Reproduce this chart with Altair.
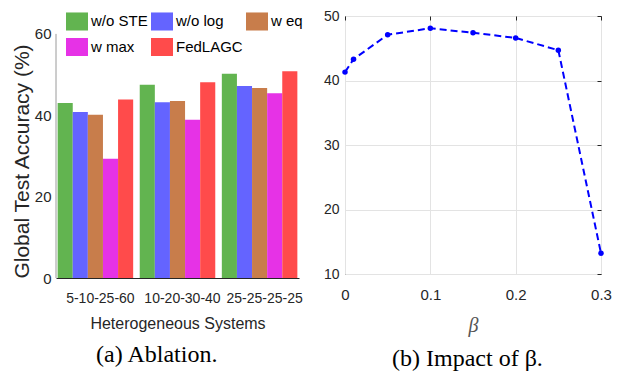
import altair as alt
import pandas as pd

# ---- data ----
systems = ["5-10-25-60", "10-20-30-40", "25-25-25-25"]
methods = ["w/o STE", "w/o log", "w eq", "w max", "FedLAGC"]
colors = ["#62b450", "#6464ff", "#c87d4b", "#e632e6", "#ff4b4b"]
acc_wo_ste = [43.0, 47.5, 50.2]
acc_wo_log = [40.8, 43.2, 47.2]
acc_w_eq = [40.1, 43.5, 46.7]
acc_w_max = [29.3, 38.9, 45.4]
acc_fedlagc = [43.9, 48.1, 50.8]

beta = [0, 0.01, 0.05, 0.1, 0.15, 0.2, 0.25, 0.3]
beta_acc = [41.3, 43.3, 47.1, 48.1, 47.4, 46.6, 44.7, 13.2]

series = [acc_wo_ste, acc_wo_log, acc_w_eq, acc_w_max, acc_fedlagc]
rows = []
for m, vals in zip(methods, series):
    for s, v in zip(systems, vals):
        rows.append({"system": s, "method": m, "acc": v})
df_bar = pd.DataFrame(rows)
df_beta = pd.DataFrame({"beta": beta, "acc": beta_acc})

SANS = "Liberation Sans"
DARK = "#262626"

# ---- left: ablation ----
yscale_l = alt.Scale(domain=[0, 64.4], nice=False)

bars = alt.Chart(df_bar).mark_bar(opacity=1).encode(
    x=alt.X("system:N", sort=systems,
            scale=alt.Scale(paddingInner=0.08, paddingOuter=0.02),
            axis=alt.Axis(title="Heterogeneous Systems", labelAngle=0, ticks=False, tickSize=0,
                          domainColor=DARK, labelOffset=5, labelPadding=13, labelFontSize=14,
                          titleFontSize=16, titlePadding=10)),
    xOffset=alt.XOffset("method:N", sort=methods, scale=alt.Scale(paddingInner=0, paddingOuter=0)),
    y=alt.Y("acc:Q", scale=yscale_l,
            axis=alt.Axis(values=[0, 20, 40, 60], title="Global Test Accuracy (%)", grid=False,
                          ticks=False, tickSize=0, domain=False, labelPadding=5, labelFlush=False,
                          titleFontSize=21, titlePadding=2, titleY=145)),
    color=alt.Color("method:N", sort=methods,
                    scale=alt.Scale(domain=methods, range=colors),
                    legend=alt.Legend(orient="none", legendX=10, legendY=-6, columns=3,
                                      direction="horizontal", title=None,
                                      symbolType="M-1,-0.82H1V0.82H-1Z", symbolSize=484,
                                      symbolStrokeWidth=0, symbolOpacity=1,
                                      labelFontSize=15, labelColor="#000000",
                                      labelOffset=3, columnPadding=3, rowPadding=5, padding=0)),
)
y_axis_line = alt.Chart(pd.DataFrame({"v": [0]})).mark_rule(color="#9a9a9a", strokeWidth=1).encode(
    x=alt.value(0), y=alt.datum(0), y2=alt.datum(60)
)
left = alt.layer(bars, y_axis_line).properties(
    width=243, height=262,
    title=alt.TitleParams("(a) Ablation.", orient="bottom", font="Liberation Serif", fontSize=24,
                          fontWeight="normal", frame="bounds", anchor="middle", offset=12,
                          color="#000000"),
)

# ---- right: impact of beta ----
xs = alt.Scale(domain=[0, 0.3], nice=False, zero=False)
ys = alt.Scale(domain=[10, 50], nice=False, zero=False)
xv = [0, 0.1, 0.2, 0.3]
yv = [10, 20, 30, 40, 50]

line = alt.Chart(df_beta).mark_line(color="#0000ff", strokeDash=[7, 4], strokeWidth=2).encode(
    x=alt.X("beta:Q", scale=xs,
            axis=alt.Axis(values=xv, format=".1~f", grid=True, gridColor="#e3e3e3", ticks=False,
                          tickSize=0, domain=False, labelPadding=13, labelFlush=False, title="β",
                          titleFont="Liberation Serif", titleFontStyle="italic", titleFontSize=20,
                          titleColor="#555555", titlePadding=13)),
    y=alt.Y("acc:Q", scale=ys,
            axis=alt.Axis(values=yv, grid=True, gridColor="#e3e3e3", ticks=False, tickSize=0,
                          domain=False, labelPadding=6, labelFlush=False, labelFontSize=14,
                          title=None)),
)
pts = line.mark_point(filled=True, size=30, color="#0000ff", opacity=1)

ticks_tr = alt.Chart(df_beta).mark_point(opacity=0).encode(
    x=alt.X("beta:Q", scale=xs,
            axis=alt.Axis(orient="top", values=xv, labels=False, domain=False, grid=False,
                          tickSize=4, offset=-4, tickColor=DARK, title=None)),
    y=alt.Y("acc:Q", scale=ys,
            axis=alt.Axis(orient="right", values=yv, labels=False, domain=False, grid=False,
                          tickSize=4, offset=-4, tickColor=DARK, title=None)),
)

right = alt.layer(alt.layer(line, pts), ticks_tr).resolve_axis(
    x="independent", y="independent"
).properties(
    width=256, height=258,
    view=alt.ViewBackground(stroke=DARK, strokeWidth=1),
    title=alt.TitleParams("(b) Impact of β.", orient="bottom", font="Liberation Serif", fontSize=24,
                          fontWeight="normal", frame="bounds", anchor="middle", offset=12,
                          color="#000000"),
)

chart = alt.hconcat(left, right, spacing=19).properties(
    padding={"left": 2, "top": 0, "right": 0, "bottom": 0}
).configure_view(stroke="transparent").configure_axis(
    labelFont=SANS, labelFontSize=15, labelColor=DARK, titleFont=SANS, titleColor=DARK,
    titleFontWeight="normal", domainColor=DARK,
).configure_legend(labelFont=SANS)

chart.save("out.html", embed_options={"renderer": "svg", "actions": False})
